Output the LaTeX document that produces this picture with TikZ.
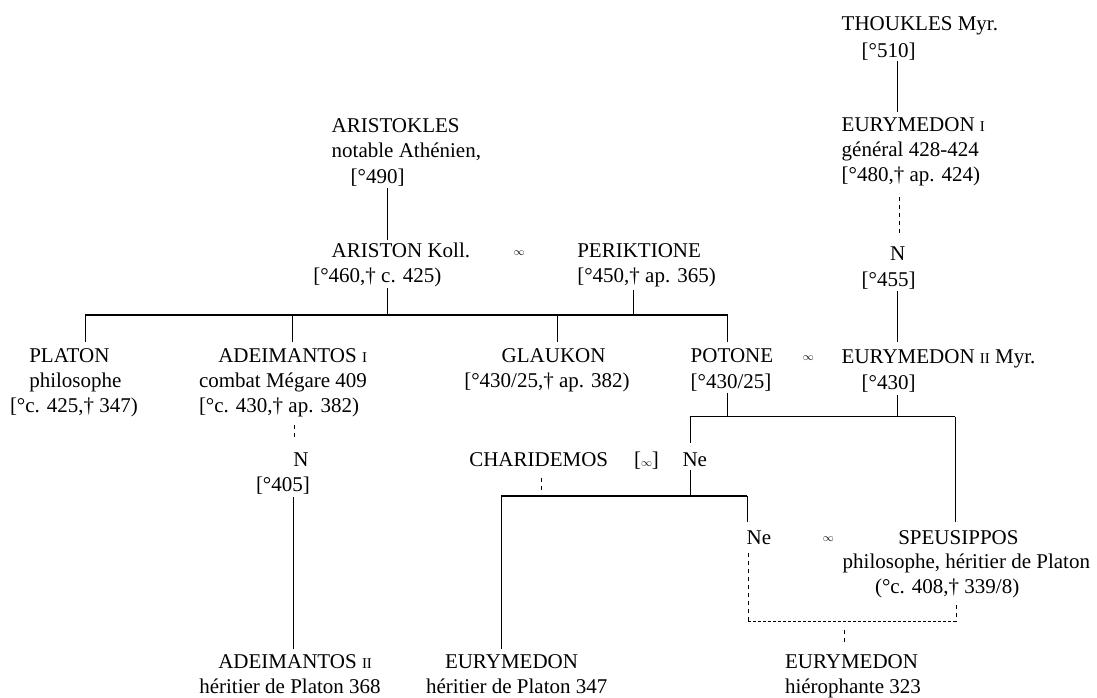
\documentclass[tikz,border=0pt]{standalone}
\usepackage{fontspec}
\setmainfont{Liberation Serif}
\newcommand\smcap[1]{{\fontsize{15}{15}\selectfont #1}}
\newcommand\marr{{\fontsize{11}{11}\selectfont$\infty$}}
\begin{document}
\begin{tikzpicture}[x=1pt,y=-1pt,
  t/.style={anchor=base west,inner sep=0pt,outer sep=0pt,font=\fontsize{21}{25}\selectfont},
  mk/.style={inner sep=0pt,outer sep=0pt},
  vl/.style={line width=0.7pt},
  hl/.style={line width=1.1pt},
  dl/.style={line width=0.7pt,dash pattern=on 4pt off 4pt}]
\fill[white] (0,0) rectangle (1097,697);
\useasboundingbox (0,0) rectangle (1097,697);
% Thoukles line
\node[t] (thA) at (841.7,30.7) {THOUKLES Myr.};
\node[t] (thB) at (861.7,57.3) {[°510]};
\node[t] (e1A) at (841.7,131.7) {EURYMEDON \smcap{I}};
\node[t] (e1B) at (841.7,156.7) {général 428-424};
\node[t] (e1C) at (841.7,181.7) {[°480,† ap. 424)};
\node[t] (nA) at (890,260) {N};
\node[t] (nB) at (861.7,286) {[°455]};
\node[t] (e2A) at (841.7,363) {EURYMEDON \smcap{II} Myr.};
\node[t] (e2B) at (861.7,389) {[°430]};
% Aristokles line
\node[t] (akA) at (331.7,132.3) {ARISTOKLES};
\node[t] (akB) at (331.7,157.3) {notable Athénien,};
\node[t] (akC) at (350.7,183) {[°490]};
\node[t] (arA) at (331.7,257.5) {ARISTON Koll.};
\node[t] (arB) at (313.3,282.5) {[°460,† c. 425)};
\node[mk] (m1) at (519,253) {\marr};
\node[t] (peA) at (577.3,257.5) {PERIKTIONE};
\node[t] (peB) at (577.3,282.5) {[°450,† ap. 365)};
% children
\node[t] (plA) at (29.3,362) {PLATON};
\node[t] (plB) at (29.3,387.3) {philosophe};
\node[t] (plC) at (10,412) {[°c. 425,† 347)};
\node[t] (adA) at (218.3,362) {ADEIMANTOS \smcap{I}};
\node[t] (adB) at (199,387.3) {combat Mégare 409};
\node[t] (adC) at (199,412) {[°c. 430,† ap. 382)};
\node[t] (glA) at (501.7,362) {GLAUKON};
\node[t] (glB) at (464.3,387) {[°430/25,† ap. 382)};
\node[t] (poA) at (690.7,362) {POTONE};
\node[t] (poB) at (690.7,388.5) {[°430/25]};
\node[mk] (m2) at (808.3,358.5) {\marr};
% next generation
\node[t] (n2A) at (293.3,466) {N};
\node[t] (n2B) at (256,491.7) {[°405]};
\node[t] (chA) at (469.3,466) {CHARIDEMOS};
\node[t] (m3) at (634,466) {[\marr]};
\node[t] (neA) at (682.5,466) {Ne};
\node[t] (ne2) at (746.7,544) {Ne};
\node[mk] (m4) at (828.3,539.5) {\marr};
\node[t] (spA) at (898.3,544) {SPEUSIPPOS};
\node[t] (spB) at (842.7,568.3) {philosophe, héritier de Platon};
\node[t] (spC) at (875,593.3) {(°c. 408,† 339/8)};
% bottom
\node[t] (a2A) at (218.3,668.5) {ADEIMANTOS \smcap{II}};
\node[t] (a2B) at (199.3,693) {héritier de Platon 368};
\node[t] (e3A) at (445,668.5) {EURYMEDON};
\node[t] (e3B) at (426,693) {héritier de Platon 347};
\node[t] (e4A) at (785,668.5) {EURYMEDON};
\node[t] (e4B) at (785,693) {hiérophante 323};
% junction coordinates
\coordinate (c1) at (897.7,61); \coordinate (c2) at (897.7,112);
\coordinate (c3) at (899.3,197); \coordinate (c4) at (899.3,233);
\coordinate (c5) at (897.7,291); \coordinate (c6) at (897.7,342);
\coordinate (a1) at (387.7,188); \coordinate (a2) at (387.7,240);
\coordinate (a3) at (387.7,288); \coordinate (a4) at (387.7,315);
\coordinate (p1) at (633.3,290); \coordinate (p2) at (633.3,315);
\coordinate (h1) at (85,315); \coordinate (h2) at (727.7,315);
\coordinate (d1) at (85,341.7); \coordinate (d2) at (292.7,315); \coordinate (d3) at (292.7,341.7);
\coordinate (d4) at (557.3,315); \coordinate (d5) at (557.3,341.7);
\coordinate (d6) at (727.7,341.7);
\coordinate (q1) at (727.7,393); \coordinate (q2) at (727.7,416.5);
\coordinate (q3) at (897.7,395); \coordinate (q4) at (897.7,416.5);
\coordinate (g1) at (690,416.5); \coordinate (g2) at (955,416.5);
\coordinate (g3) at (690,443.3); \coordinate (g4) at (955,521.7);
\coordinate (r1) at (690,470); \coordinate (r2) at (690,496);
\coordinate (s1) at (501,496); \coordinate (s2) at (747,496);
\coordinate (s3) at (501,649.3); \coordinate (s4) at (747,521.7);
\coordinate (k1) at (541,477.5); \coordinate (k2) at (541,492.5);
\coordinate (u1) at (294,425); \coordinate (u2) at (294,438);
\coordinate (u3) at (293.3,497.3); \coordinate (u4) at (293.3,649.3);
\coordinate (w1) at (748,553); \coordinate (w2) at (748,621.7);
\coordinate (w3) at (956.7,605); \coordinate (w4) at (956.7,621.7);
\coordinate (w5) at (844,630); \coordinate (w6) at (844,643.3);
% connectors
\draw[vl] (c1) -- (c2);
\draw[dl] (c3) -- (c4);
\draw[vl] (c5) -- (c6);
\draw[vl] (a1) -- (a2);
\draw[vl] (a3) -- (a4);
\draw[vl] (p1) -- (p2);
\draw[hl] (h1) -- (h2);
\draw[vl] (h1) -- (d1);
\draw[vl] (d2) -- (d3);
\draw[vl] (d4) -- (d5);
\draw[vl] (h2) -- (d6);
\draw[vl] (q1) -- (q2);
\draw[vl] (q3) -- (q4);
\draw[hl] (g1) -- (g2);
\draw[vl] (g1) -- (g3);
\draw[vl] (g2) -- (g4);
\draw[vl] (r1) -- (r2);
\draw[hl] (s1) -- (s2);
\draw[vl] (s1) -- (s3);
\draw[vl] (s2) -- (s4);
\draw[dl] (k1) -- (k2);
\draw[dl] (u1) -- (u2);
\draw[vl] (u3) -- (u4);
\draw[dl] (w1) -- (w2);
\draw[dl] (w3) -- (w4);
\draw[line width=0.9pt,dash pattern=on 3pt off 2pt] (w2) -- (w4);
\draw[dl] (w5) -- (w6);
\end{tikzpicture}
\end{document}
